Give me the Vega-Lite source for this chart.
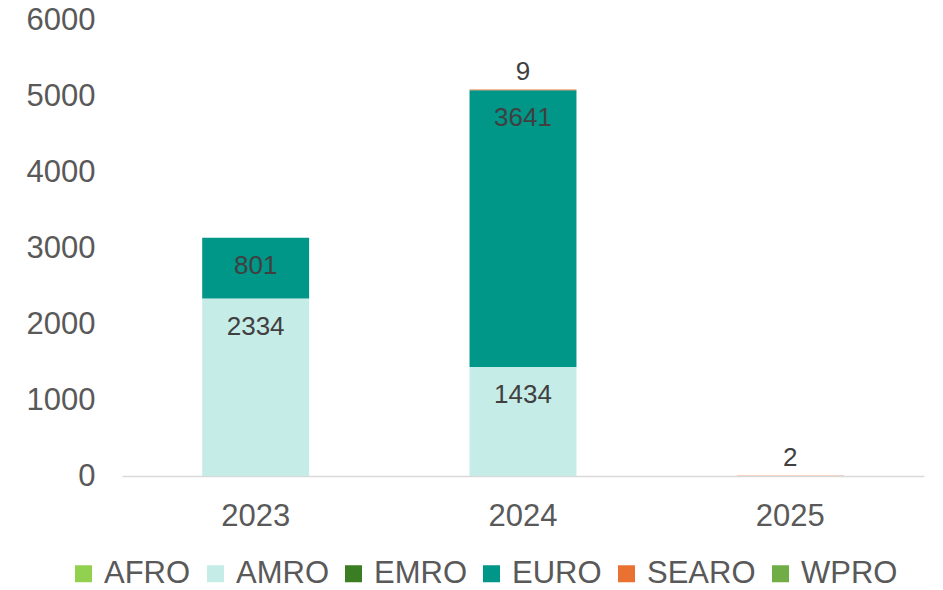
{
  "$schema": "https://vega.github.io/schema/vega-lite/v6.json",
  "width": 802,
  "height": 456,
  "autosize": {"type": "none"},
  "padding": {"left": 122, "top": 20, "right": 19, "bottom": 114},
  "background": "white",
  "config": {
    "font": "Liberation Sans",
    "view": {"stroke": null}
  },
  "data": {
    "values": [
      {"year": "2023", "region": "AMRO", "value": 2334},
      {"year": "2023", "region": "EURO", "value": 801},
      {"year": "2024", "region": "AMRO", "value": 1434},
      {"year": "2024", "region": "EURO", "value": 3641},
      {"year": "2024", "region": "SEARO", "value": 9},
      {"year": "2025", "region": "SEARO", "value": 2}
    ]
  },
  "transform": [
    {"stack": "value", "groupby": ["year"], "sort": [{"field": "region", "order": "ascending"}], "as": ["v0", "v1"]}
  ],
  "layer": [
    {
      "mark": {"type": "bar"},
      "encoding": {
        "x": {
          "field": "year", "type": "nominal",
          "scale": {"domain": ["2023", "2024", "2025"], "paddingInner": 0.6, "paddingOuter": 0.3},
          "axis": {"title": null, "labelAngle": 0, "ticks": false, "domainColor": "#D9D9D9", "domainWidth": 1.5, "labelFontSize": 31, "labelColor": "#595959", "labelPadding": 25, "labelFont": "Liberation Sans"}
        },
        "y": {
          "field": "v1", "type": "quantitative",
          "scale": {"domain": [0, 6000], "nice": false},
          "axis": {"title": null, "values": [0, 1000, 2000, 3000, 4000, 5000, 6000], "format": "d", "grid": false, "domain": false, "ticks": false, "labelFontSize": 31, "labelColor": "#595959", "labelPadding": 27, "labelFont": "Liberation Sans"}
        },
        "y2": {"field": "v0"},
        "color": {
          "field": "region", "type": "nominal",
          "scale": {
            "domain": ["AFRO", "AMRO", "EMRO", "EURO", "SEARO", "WPRO"],
            "range": ["#92D050", "#C6ECE8", "#3A7D22", "#009688", "#E97132", "#70AD47"]
          },
          "legend": {
            "title": null, "orient": "none", "direction": "horizontal", "columns": 6,
            "legendX": -54, "legendY": 538,
            "symbolType": "square", "symbolSize": 289, "symbolStrokeWidth": 0,
            "labelFontSize": 31, "labelColor": "#595959", "labelFont": "Liberation Sans",
            "labelOffset": 5, "columnPadding": 9
          }
        }
      }
    },
    {
      "transform": [{"filter": "datum.value >= 100"}],
      "mark": {"type": "text", "dy": 28, "fontSize": 26, "color": "#404040", "baseline": "middle"},
      "encoding": {
        "x": {"field": "year", "type": "nominal"},
        "y": {"field": "v1", "type": "quantitative"},
        "text": {"field": "value", "type": "quantitative"}
      }
    },
    {
      "transform": [{"filter": "datum.value < 100"}],
      "mark": {"type": "text", "dy": -18, "fontSize": 26, "color": "#404040", "baseline": "middle"},
      "encoding": {
        "x": {"field": "year", "type": "nominal"},
        "y": {"field": "v1", "type": "quantitative"},
        "text": {"field": "value", "type": "quantitative"}
      }
    }
  ]
}
